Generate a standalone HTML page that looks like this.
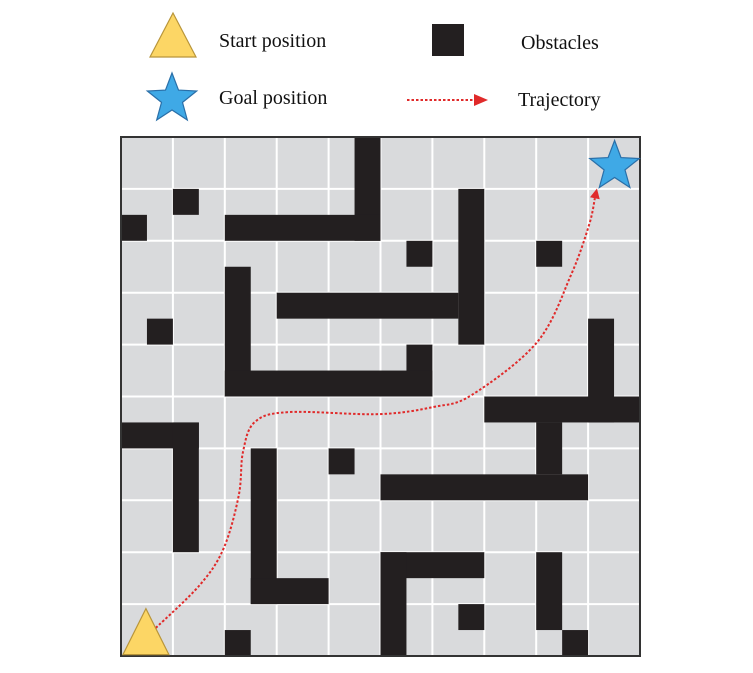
<!DOCTYPE html>
<html><head><meta charset="utf-8"><style>
html,body{margin:0;padding:0;background:#fff;}
svg{display:block;font-family:"Liberation Serif",serif;}
</style></head><body>
<svg id="chart" width="753" height="673" viewBox="0 0 753 673" xmlns="http://www.w3.org/2000/svg">
<g>
  <polygon points="173,13 150,57 196,57" fill="#fcd665" stroke="#b8953a" stroke-width="1.2"/>
  <text x="219" y="47" font-size="20" fill="#111">Start position</text>
  <rect x="432" y="24" width="32" height="32" fill="#231f20"/>
  <text x="521" y="49" font-size="20" fill="#111">Obstacles</text>
  <g id="legendStar"></g>
  <text x="219" y="104" font-size="20" fill="#111">Goal position</text>
  <line x1="407" y1="100" x2="476" y2="100" stroke="#e02a2a" stroke-width="2" stroke-dasharray="2.5,2"/>
  <polygon points="488,100 474,94 474,106" fill="#e02a2a"/>
  <text x="518" y="106" font-size="20" fill="#111">Trajectory</text>
</g>
<g id="map"></g>
</svg>
<script>
// Obstacles in half-cell units: [col, row, width, height] on a 20x20 grid
const obstacleCols = [9,4,2,0,13,11,16,4,6,1,11,4,18,14,0,2,5,5,8,16,10,10,10,13,16,17,4];
const obstacleRows = [0,3,2,3,2,4,4,5,6,7,8,9,7,10,11,11,12,17,12,11,13,16,16,18,16,19,19];
const obstacleW    = [1,6,1,1,1,1,1,1,7,1,1,8,1,6,3,1,1,3,1,1,8,4,1,1,1,1,1];
const obstacleH    = [4,1,1,1,6,1,1,5,1,1,2,1,4,1,1,5,6,1,1,2,1,1,4,1,3,1,1];
// Trajectory points in grid units (0..10 each axis, from top-left)
const trajX = [0.67,1.52,1.98,2.27,2.35,2.58,3.24,4.97,6.03,6.76,8.02,8.67,9.02,9.13];
const trajY = [9.46,8.63,7.92,6.9,6.07,5.49,5.3,5.34,5.2,4.97,3.95,2.66,1.69,1.18];
const startPos = [0.48, 9.55];
const goalPos = [9.51, 0.53];

const NS="http://www.w3.org/2000/svg";
const X0=121, Y0=137, SIZE=519, N=10, CELL=SIZE/N, HALF=CELL/2;
const sx=v=>X0+v*CELL, sy=v=>Y0+v*CELL;
const map=document.getElementById('map');
function mk(tag,attrs,parent){const e=document.createElementNS(NS,tag);for(const k in attrs)e.setAttribute(k,attrs[k]);(parent||map).appendChild(e);return e;}

const bg=mk('rect',{x:X0,y:Y0,width:SIZE,height:SIZE,fill:'#d9dadc'});


for(let i=1;i<N;i++){
  const v=mk('line',{x1:sx(i),y1:Y0,x2:sx(i),y2:Y0+SIZE,stroke:'#fff','stroke-width':2});
  
  
  const h=mk('line',{x1:X0,y1:sy(i),x2:X0+SIZE,y2:sy(i),stroke:'#fff','stroke-width':2});
  
  
}
for(let i=0;i<obstacleCols.length;i++){
  const r=mk('rect',{x:X0+obstacleCols[i]*HALF,y:Y0+obstacleRows[i]*HALF,width:obstacleW[i]*HALF,height:obstacleH[i]*HALF,fill:'#231f20'});
  
  
}
const border=mk('rect',{x:X0,y:Y0,width:SIZE,height:SIZE,fill:'none',stroke:'#333','stroke-width':2});



// trajectory via Catmull-Rom
const pts=trajX.map((x,i)=>[sx(x),sy(trajY[i])]);
let d=`M${pts[0][0]},${pts[0][1]}`;
for(let i=0;i<pts.length-1;i++){
  const p0=pts[i-1]||pts[i],p1=pts[i],p2=pts[i+1],p3=pts[i+2]||p2;
  const c1=[p1[0]+(p2[0]-p0[0])/6,p1[1]+(p2[1]-p0[1])/6];
  const c2=[p2[0]-(p3[0]-p1[0])/6,p2[1]-(p3[1]-p1[1])/6];
  d+=` C${c1[0]},${c1[1]} ${c2[0]},${c2[1]} ${p2[0]},${p2[1]}`;
}
const path=mk('path',{d:d,fill:'none',stroke:'#e02a2a','stroke-width':2,'stroke-dasharray':'2.5,2'});


const last=pts[pts.length-1], prev=pts[pts.length-2];
const ang=Math.atan2(last[1]-prev[1],last[0]-prev[0]);
const tip=[last[0]+Math.cos(ang)*10,last[1]+Math.sin(ang)*10];
const ah=mk('polygon',{points:`${tip[0]},${tip[1]} ${last[0]+Math.cos(ang+Math.PI/2)*5},${last[1]+Math.sin(ang+Math.PI/2)*5} ${last[0]+Math.cos(ang-Math.PI/2)*5},${last[1]+Math.sin(ang-Math.PI/2)*5}`,fill:'#e02a2a'});



function starPts(cx,cy,R,r){let s=[];for(let i=0;i<10;i++){const a=-Math.PI/2+i*Math.PI/5;const rr=i%2?r:R;s.push((cx+rr*Math.cos(a)).toFixed(1)+','+(cy+rr*Math.sin(a)).toFixed(1));}return s.join(' ');}
const st=mk('polygon',{points:`${sx(startPos[0])},${sy(startPos[1])-24} ${sx(startPos[0])-23},${sy(startPos[1])+22} ${sx(startPos[0])+23},${sy(startPos[1])+22}`,fill:'#fcd665',stroke:'#b8953a','stroke-width':1.2});


const gs=mk('polygon',{points:starPts(sx(goalPos[0]),sy(goalPos[1])+2,26,11),fill:'#3fa9e6',stroke:'#2a6fa8','stroke-width':1.2});


const ls=mk('polygon',{points:starPts(172,99,26,11),fill:'#3fa9e6',stroke:'#2a6fa8','stroke-width':1.2},document.getElementById('legendStar'));


</script>
</body></html>
